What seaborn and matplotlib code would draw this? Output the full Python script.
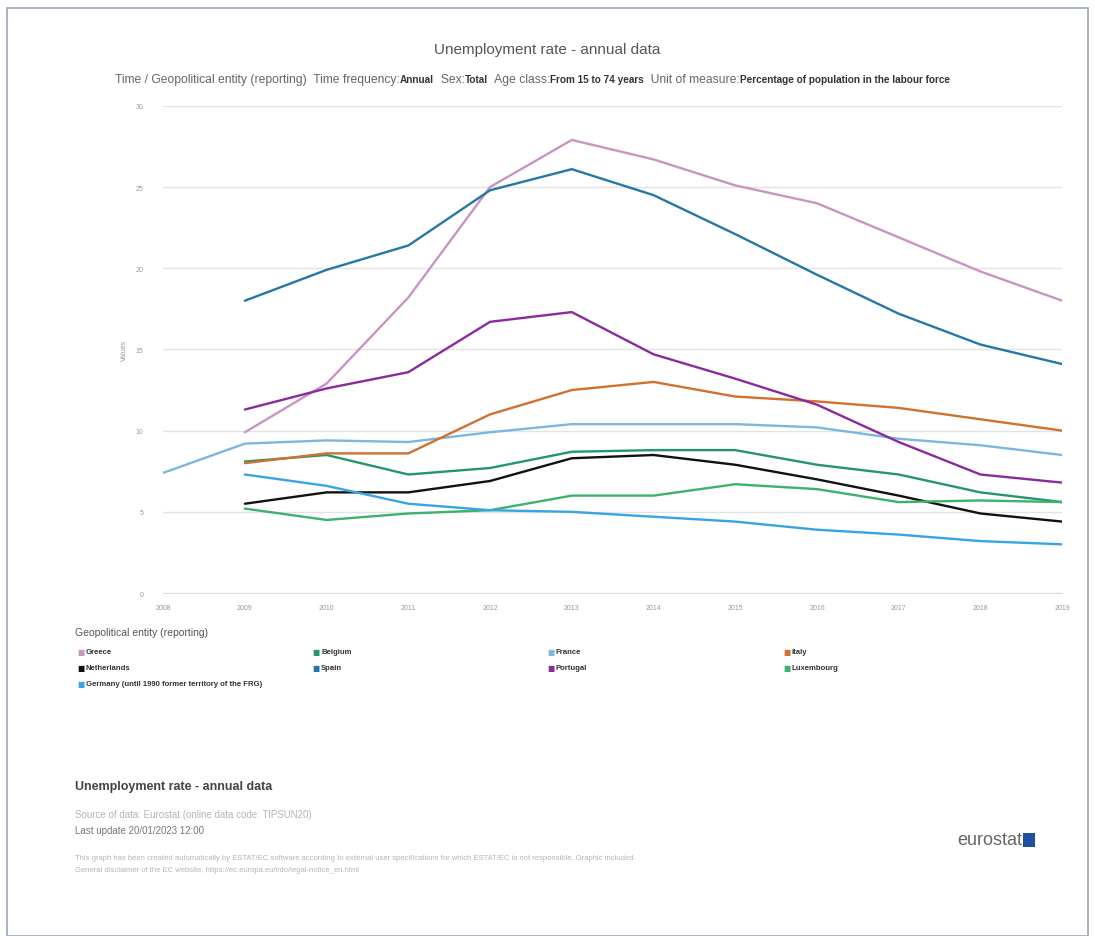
import matplotlib
matplotlib.use('Agg')
import matplotlib.pyplot as plt
import seaborn as sns
import pandas as pd
import numpy as np
from matplotlib.patches import Rectangle

# Veriler
years_all = list(range(2008, 2020))
years = list(range(2009, 2020))

greece = [9.9, 12.9, 18.2, 25.0, 27.9, 26.7, 25.1, 24.0, 21.9, 19.8, 18.0]
belgium = [8.1, 8.5, 7.3, 7.7, 8.7, 8.8, 8.8, 7.9, 7.3, 6.2, 5.6]
france = [7.4, 9.2, 9.4, 9.3, 9.9, 10.4, 10.4, 10.4, 10.2, 9.5, 9.1, 8.5]
italy = [8.0, 8.6, 8.6, 11.0, 12.5, 13.0, 12.1, 11.8, 11.4, 10.7, 10.0]
netherlands = [5.5, 6.2, 6.2, 6.9, 8.3, 8.5, 7.9, 7.0, 6.0, 4.9, 4.4]
spain = [18.0, 19.9, 21.4, 24.8, 26.1, 24.5, 22.1, 19.6, 17.2, 15.3, 14.1]
portugal = [11.3, 12.6, 13.6, 16.7, 17.3, 14.7, 13.2, 11.6, 9.3, 7.3, 6.8]
luxembourg = [5.2, 4.5, 4.9, 5.1, 6.0, 6.0, 6.7, 6.4, 5.6, 5.7, 5.6]
germany = [7.3, 6.6, 5.5, 5.1, 5.0, 4.7, 4.4, 3.9, 3.6, 3.2, 3.0]

countries = ['Greece', 'Belgium', 'France', 'Italy', 'Netherlands', 'Spain',
             'Portugal', 'Luxembourg', 'Germany (until 1990 former territory of the FRG)']
colors = ['#c994c2', '#23976a', '#7db6de', '#d1702f', '#111111', '#2577a6',
          '#8b2a9e', '#3cb26c', '#38a5e2']
y_ticks = [0, 5, 10, 15, 20, 25, 30]

series = [greece, belgium, france, italy, netherlands, spain, portugal, luxembourg, germany]
rows = []
for name, vals in zip(countries, series):
    yrs = years_all if len(vals) == len(years_all) else years
    for yr, v in zip(yrs, vals):
        rows.append({'year': yr, 'value': v, 'country': name})
df = pd.DataFrame(rows)
palette = dict(zip(countries, colors))

sns.set_style('white')
plt.rcParams['font.family'] = ['Liberation Sans', 'DejaVu Sans']

fig = plt.figure(figsize=(10.95, 9.37), dpi=100)
ax = fig.add_axes([0.149, 0.366, 0.821, 0.520])

sns.lineplot(data=df, x='year', y='value', hue='country', palette=palette,
             linewidth=1.7, ax=ax, legend=False, sort=True)

ax.set_xlim(2008, 2019)
ax.set_ylim(0, 30)
ax.set_xticks(years_all)
ax.set_xticklabels([str(y) for y in years_all], fontsize=5, color='#999999')
ax.set_yticks(y_ticks)
ax.set_yticklabels([str(t) for t in y_ticks], fontsize=5, color='#999999')
ax.tick_params(axis='y', length=0, pad=14)
ax.tick_params(axis='x', length=4, color='#cccccc', pad=4, direction='out')
ax.yaxis.grid(True, color='#e3e3e3', linewidth=1)
ax.xaxis.grid(False)
for s in ['top', 'right', 'left']:
    ax.spines[s].set_visible(False)
ax.spines['bottom'].set_color('#dddddd')
ax.set_xlabel('')
ax.set_ylabel('Values', fontsize=5, color='#999999', labelpad=6)
ax.margins(x=0)

# Baslik
fig.text(0.5, 0.947, 'Unemployment rate - annual data', ha='center', va='center',
         fontsize=11, color='#555555')

# Alt baslik (normal + kalin parcalar)
parts = [('Time / Geopolitical entity (reporting)  Time frequency:', 'normal'),
         ('Annual', 'bold'), ('  Sex:', 'normal'), ('Total', 'bold'),
         ('  Age class:', 'normal'), ('From 15 to 74 years', 'bold'),
         ('  Unit of measure:', 'normal'), ('Percentage of population in the labour force', 'bold')]
renderer = fig.canvas.get_renderer()
x = 115 / 1095
for txt, w in parts:
    t = fig.text(x, 0.915, txt, ha='left', va='center', fontsize=8.7 if w == 'normal' else 7.2,
                 fontweight=w, color='#666666' if w == 'normal' else '#333333')
    bb = t.get_window_extent(renderer=renderer)
    x += bb.width / fig.bbox.width

# Lejant
fig.text(75 / 1095, 1 - 633 / 937, 'Geopolitical entity (reporting)', ha='left', va='center',
         fontsize=7.5, color='#555555')
col_x = [77, 312, 547, 783]
row_y = [653, 669, 685]
for i, (name, c) in enumerate(zip(countries, colors)):
    cx = col_x[i % 4] / 1095
    cy = 1 - row_y[i // 4] / 937
    fig.text(cx, cy, '\u25a0', ha='left', va='center', fontsize=5.5, color=c,
             family='DejaVu Sans')
    fig.text(cx + 9 / 1095, cy, name, ha='left', va='center', fontsize=5.6,
             fontweight='bold', color='#333333')

# Alt bilgi
fig.text(75 / 1095, 1 - 787 / 937, 'Unemployment rate - annual data', ha='left', va='center',
         fontsize=9, fontweight='bold', color='#444444')
fig.text(75 / 1095, 1 - 815 / 937, 'Source of data: Eurostat (online data code: TIPSUN20)',
         ha='left', va='center', fontsize=7, color='#b5b5b5')
fig.text(75 / 1095, 1 - 831 / 937, 'Last update 20/01/2023 12:00', ha='left', va='center',
         fontsize=7, color='#777777')
fig.text(75 / 1095, 1 - 858 / 937,
         'This graph has been created automatically by ESTAT/EC software according to external user specifications '
         'for which ESTAT/EC is not responsible. Graphic included.',
         ha='left', va='center', fontsize=5.5, color='#b5b5b5')
fig.text(75 / 1095, 1 - 871 / 937,
         'General disclaimer of the EC website, https://ec.europa.eu/info/legal-notice_en.html',
         ha='left', va='center', fontsize=5.5, color='#b5b5b5')

# eurostat logo
fig.text(1022 / 1095, 1 - 841 / 937, 'eurostat', ha='right', va='center',
         fontsize=13, color='#666666')
fig.patches.append(Rectangle((1023 / 1095, 1 - 848 / 937), 12 / 1095, 14 / 937,
                             transform=fig.transFigure, facecolor='#1f4fa0',
                             edgecolor='none'))

# Cerceve
fig.patches.append(Rectangle((7 / 1095, 0.0), 1081 / 1095, 1 - 9 / 937,
                             transform=fig.transFigure, facecolor='none',
                             edgecolor='#9aa8ba', linewidth=1.2))

fig.savefig('out.png', dpi=100)
